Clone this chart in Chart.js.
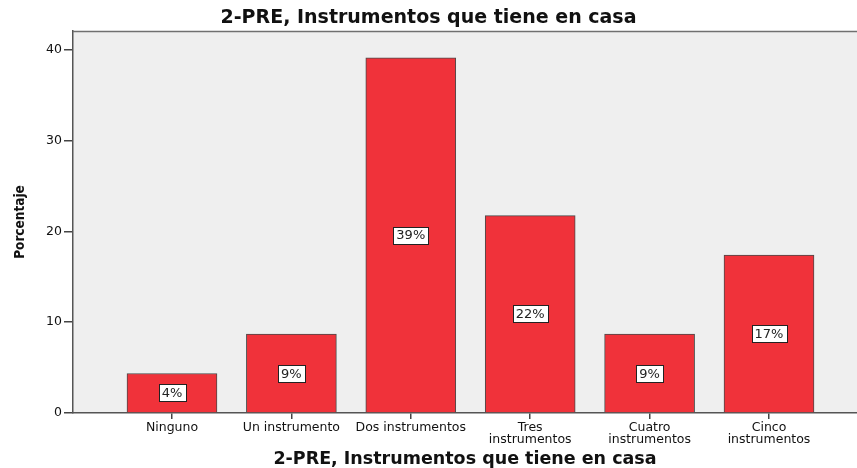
<!DOCTYPE html>
<html>
<head>
<meta charset="utf-8">
<script src="https://cdn.jsdelivr.net/npm/chart.js@4/dist/chart.umd.min.js"></script>
<style>
  html, body { margin: 0; padding: 0; background: #ffffff; }
  #wrap { width: 857px; height: 468px; }
</style>
</head>
<body>
<div id="wrap"><canvas id="c" width="857" height="468"></canvas></div>
<script>
const chartTitle = '2-PRE, Instrumentos que tiene en casa';
const xAxisTitle = '2-PRE, Instrumentos que tiene en casa';
const yAxisTitle = 'Porcentaje';
const categories = [
  ['Ninguno'],
  ['Un instrumento'],
  ['Dos instrumentos'],
  ['Tres', 'instrumentos'],
  ['Cuatro', 'instrumentos'],
  ['Cinco', 'instrumentos']
];
const percentages = [4.35, 8.70, 39.13, 21.74, 8.70, 17.39];
const yTicks = [0, 10, 20, 30, 40];

const points = percentages.map((v, i) => ({ x: i, y: v }));

const plotBg = {
  id: 'plotBg',
  beforeDraw(chart) {
    const { ctx, chartArea: a } = chart;
    ctx.save();
    ctx.fillStyle = '#efefef';
    ctx.fillRect(a.left, a.top, a.right - a.left, a.bottom - a.top);
    ctx.restore();
  },
  afterDraw(chart) {
    const { ctx, chartArea: a } = chart;
    ctx.save();
    ctx.strokeStyle = '#707070';
    ctx.lineWidth = 1.5;
    ctx.beginPath();
    ctx.moveTo(a.left, a.top + 0.5);
    ctx.lineTo(a.right, a.top + 0.5);
    ctx.stroke();
    ctx.restore();
  }
};

const barLabels = {
  id: 'barLabels',
  afterDatasetsDraw(chart) {
    const { ctx } = chart;
    const meta = chart.getDatasetMeta(0);
    ctx.save();
    ctx.font = '13px "DejaVu Sans", sans-serif';
    ctx.textAlign = 'center';
    ctx.textBaseline = 'middle';
    meta.data.forEach((bar, i) => {
      const { x, y, base } = bar.getProps(['x', 'y', 'base'], true);
      const cy = (y + base) / 2;
      const txt = Math.round(percentages[i]) + '%';
      const w = ctx.measureText(txt).width + 6;
      const h = 17;
      ctx.fillStyle = '#ffffff';
      ctx.fillRect(Math.round(x - w / 2) + 0.5, Math.round(cy - h / 2) + 0.5, Math.round(w), h);
      ctx.strokeStyle = '#222222';
      ctx.lineWidth = 1;
      ctx.strokeRect(Math.round(x - w / 2) + 0.5, Math.round(cy - h / 2) + 0.5, Math.round(w), h);
      ctx.fillStyle = '#222222';
      ctx.fillText(txt, x, cy + 1);
    });
    ctx.restore();
  }
};

new Chart(document.getElementById('c'), {
  type: 'bar',
  data: {
    datasets: [{
      data: points,
      backgroundColor: 'rgb(240,50,58)',
      borderColor: '#4a4a4a',
      borderWidth: 1,
      barThickness: 90
    }]
  },
  options: {
    responsive: false,
    animation: false,
    layout: { padding: { left: 0, right: 0, top: 0, bottom: 0 } },
    plugins: {
      legend: { display: false },
      tooltip: { enabled: false },
      title: {
        display: true,
        text: chartTitle,
        color: '#111111',
        font: { family: '"DejaVu Sans", sans-serif', size: 19, weight: 'bold', lineHeight: 1 },
        padding: { top: 9, bottom: 3 }
      }
    },
    scales: {
      x: {
        type: 'linear',
        min: -0.829,
        max: 5.737,
        offset: false,
        afterBuildTicks(scale) {
          scale.ticks = categories.map((c, i) => ({ value: i }));
        },
        afterFit(scale) { scale.height = 55; },
        grid: { display: true, offset: false, drawOnChartArea: false, tickLength: 6, color: '#444444', lineWidth: 1.5 },
        border: { display: true, color: '#555555', width: 1.5 },
        ticks: {
          autoSkip: false,
          maxRotation: 0,
          padding: 3,
          color: '#111111',
          font: { family: '"DejaVu Sans", sans-serif', size: 12.5, lineHeight: 0.92 },
          callback: (v) => categories[v] || ''
        },
        title: {
          display: true,
          text: xAxisTitle,
          color: '#111111',
          font: { family: '"DejaVu Sans", sans-serif', size: 17.5, weight: 'bold', lineHeight: 1 },
          padding: { top: 0, bottom: 0 }
        }
      },
      y: {
        min: 0,
        max: 42.09,
        afterBuildTicks(scale) {
          scale.ticks = yTicks.map(v => ({ value: v }));
        },
        afterFit(scale) { scale.width = 73; },
        grid: { display: true, drawOnChartArea: false, tickLength: 9, color: '#444444', lineWidth: 1.5 },
        border: { display: true, color: '#555555', width: 1.5 },
        ticks: {
          padding: 2,
          color: '#111111',
          font: { family: '"DejaVu Sans", sans-serif', size: 12.5 }
        },
        title: {
          display: true,
          text: yAxisTitle,
          color: '#111111',
          font: { family: '"DejaVu Sans Condensed", "Liberation Sans Narrow", sans-serif', size: 13.5, weight: 'bold', lineHeight: 1 },
          padding: { top: 14, bottom: 0 }
        }
      }
    }
  },
  plugins: [plotBg, barLabels]
});
</script>
</body>
</html>
